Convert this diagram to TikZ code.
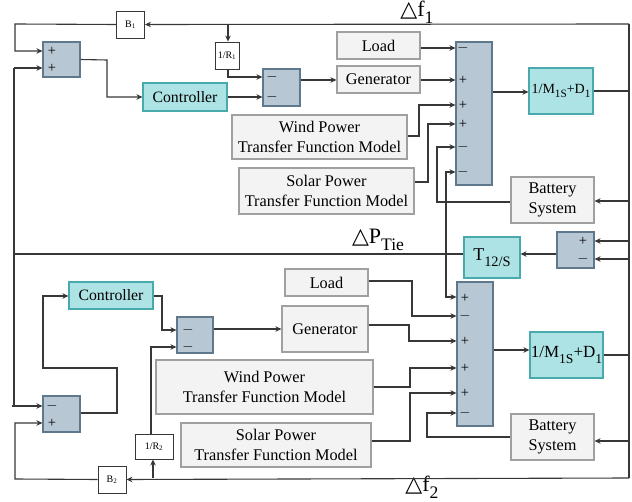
\documentclass[tikz,border=0pt]{standalone}
\usepackage{fontspec}
\setmainfont{Liberation Serif}
\newfontfamily\symfont{DejaVu Sans}
\usetikzlibrary{arrows.meta}
\definecolor{linec}{RGB}{55,55,55}
\definecolor{sumfill}{RGB}{184,199,212}
\definecolor{sumdraw}{RGB}{95,120,140}
\definecolor{tealfill}{RGB}{174,227,229}
\definecolor{tealdraw}{RGB}{72,170,172}
\definecolor{grayfill}{RGB}{243,243,243}
\definecolor{graydraw}{RGB}{160,160,160}
\newcommand\dn[1]{\raisebox{-0.3em}{\scalebox{0.8}{#1}}}
\newcommand\tri{{\symfont △}}
\begin{document}
\begin{tikzpicture}[x=1pt, y=-1pt, line width=1.1pt,
  lin/.style = {draw=linec},
  arr/.style = {draw=linec, -{Stealth[length=6pt,width=5.5pt]}},
  sumblk/.style = {draw=sumdraw, fill=sumfill, inner sep=0pt},
  ctl/.style = {draw=tealdraw, fill=tealfill, inner sep=0pt, align=center, font=\fontsize{15.8}{17}\selectfont},
  blk/.style = {draw=graydraw, fill=grayfill, inner sep=0pt, align=center, font=\fontsize{16.3}{20}\selectfont},
  gain/.style = {draw=linec, fill=white, inner sep=0pt, line width=0.9pt, font=\fontsize{10}{12}\selectfont},
  sgn/.style = {inner sep=0pt, font=\fontsize{14.5}{15}\selectfont},
  lbl/.style = {inner sep=0pt, font=\fontsize{22}{22}\selectfont}]
    \useasboundingbox (0,0) rectangle (632,502);

    % area 1
    \node[gain, minimum width=28pt, minimum height=27pt] (b1) at (130.5,24.5) {B\textsubscript{1}};
    \node[sumblk, minimum width=37pt, minimum height=35pt] (s1) at (61.5,59.5) {};
    \node[ctl, minimum width=84pt, minimum height=28pt] (c1) at (185,97) {Controller};
    \node[gain, minimum width=24pt, minimum height=27pt] (r1) at (227,55.5) {1/R\textsubscript{1}};
    \node[sumblk, minimum width=37pt, minimum height=37pt] (s2) at (281.5,87.5) {};
    \node[blk, minimum width=83pt, minimum height=27pt] (ld1) at (378.5,45.5) {Load};
    \node[blk, minimum width=83pt, minimum height=27pt] (g1) at (378.5,79.5) {Generator};
    \node[blk, minimum width=175pt, minimum height=44pt] (w1) at (319.5,137) {Wind Power\\Transfer Function Model};
    \node[blk, minimum width=175pt, minimum height=46pt] (p1) at (326.5,191) {Solar Power\\Transfer Function Model};
    \node[sumblk, minimum width=36pt, minimum height=143pt] (s3) at (474,113.5) {};
    \node[ctl, minimum width=64pt, minimum height=46pt, font=\fontsize{14}{16}\selectfont] (m1) at (561,91) {1/M\dn{1S}+D\dn{1}};
    \node[blk, minimum width=83pt, minimum height=46pt] (bt1) at (552.5,200) {Battery\\System};

    % tie line
    \node[ctl, minimum width=56pt, minimum height=41pt, font=\fontsize{18}{20}\selectfont] (t12) at (492,257.5) {T\dn{12/S}};
    \node[sumblk, minimum width=37pt, minimum height=36pt] (s4) at (575.5,250) {};

    % area 2
    \node[blk, minimum width=83pt, minimum height=27pt] (ld2) at (326.5,282.5) {Load};
    \node[blk, minimum width=86pt, minimum height=46pt] (g2) at (325,329) {Generator};
    \node[blk, minimum width=217pt, minimum height=54pt] (w2) at (264.5,387) {Wind Power\\Transfer Function Model};
    \node[blk, minimum width=190pt, minimum height=44pt] (p2) at (276,445) {Solar Power\\Transfer Function Model};
    \node[sumblk, minimum width=36pt, minimum height=144pt] (s5) at (475,354) {};
    \node[ctl, minimum width=73pt, minimum height=46pt, font=\fontsize{17}{19}\selectfont] (m2) at (566.5,355) {1/M\dn{1S}+D\dn{1}};
    \node[blk, minimum width=83pt, minimum height=46pt] (bt2) at (552.5,437) {Battery\\System};
    \node[ctl, minimum width=84pt, minimum height=27pt] (c2) at (111,295.5) {Controller};
    \node[sumblk, minimum width=36pt, minimum height=36pt] (s6) at (195,335) {};
    \node[gain, minimum width=38pt, minimum height=25pt] (r2) at (154,446.5) {1/R\textsubscript{2}};
    \node[gain, minimum width=28pt, minimum height=27pt] (b2) at (112,479.5) {B\textsubscript{2}};
    \node[sumblk, minimum width=37pt, minimum height=36pt] (s7) at (61.5,414) {};

    % signs
    \foreach \y/\s in {51/+, 68/+} \node[sgn] (sa\y) at (52,\y) {\s};
    \foreach \y/\s in {77/$-$, 97/$-$} \node[sgn] (sb\y) at (272,\y) {\s};
    \foreach \y/\s in {48/$-$, 80/+, 105/+, 124/+, 147/$-$, 172/$-$} \node[sgn] (sc\y) at (463,\y) {\s};
    \foreach \y/\s in {241/+, 259/$-$} \node[sgn] (sd\y) at (583,\y) {\s};
    \foreach \y/\s in {298/+, 316/$-$, 341/+, 368/+, 393/+, 413/$-$} \node[sgn] (se\y) at (465,\y) {\s};
    \foreach \y/\s in {330/$-$, 347/$-$} \node[sgn] (sf\y) at (188,\y) {\s};
    \foreach \y/\s in {406/$-$, 423/+} \node[sgn] (sg\y) at (52,\y) {\s};

    % labels
    \node[lbl] (df1) at (417,12) {\tri f\dn{1}};
    \node[lbl] (dptie) at (378,240) {\tri P\dn{Tie}};
    \node[lbl] (df2) at (422,487) {\tri f\dn{2}};

    % outer frequency loop
    \draw[lin] (629,24) -- (629,478);
    \draw[arr] (629,24) -- (b1.east);
    \draw[arr] (228,24) -- (r1.north -| 228,0);
    \draw[lin] (m1.east) -- (629,91);
    \draw[arr] (629,201) -- (bt1.east |- 0,201);
    \draw[arr] (629,241) -- (s4.east |- 0,241);
    \draw[arr] (629,259) -- (s4.east |- 0,259);
    \draw[lin] (m2.east) -- (629,355);
    \draw[arr] (629,441) -- (bt2.east |- 0,441);
    \draw[arr] (629,478) -- (b2.east);
    \draw[arr] (153,478) -- (r2.south -| 153,0);

    % tie line power
    \draw[arr] (s4.west |- 0,254) -- (t12.east |- 0,254);
    \draw[lin] (t12.west |- 0,254) -- (14,254);
    \draw[lin] (14,68) -- (14,406);
    \draw[arr] (14,68) -- (s1.west |- 0,68);
    \draw[arr] (12,406) -- (s7.west |- 0,406);
    \draw[arr] (446,254) -- (446,172) -- (s3.west |- 0,172);
    \draw[arr] (446,254) -- (446,297) -- (s5.west |- 0,297);

    % area 1 connections
    \draw[arr] (b1.west) -- (15,24) -- (15,51) -- (s1.west |- 0,51);
    \draw[arr] (s1.east) -- (107,60) -- (107,97) -- (c1.west);
    \draw[arr] (c1.east) -- (s2.west |- 0,97);
    \draw[arr] (r1.south -| 228,0) -- (228,77) -- (s2.west |- 0,77);
    \draw[arr] (s2.east |- 0,80) -- (g1.west |- 0,80);
    \draw[arr] (ld1.east |- 0,48) -- (s3.west |- 0,48);
    \draw[arr] (g1.east |- 0,80) -- (s3.west |- 0,80);
    \draw[arr] (w1.east |- 0,136) -- (419,136) -- (419,105) -- (s3.west |- 0,105);
    \draw[arr] (p1.east |- 0,182) -- (428,182) -- (428,124) -- (s3.west |- 0,124);
    \draw[arr] (bt1.west |- 0,202) -- (437,202) -- (437,147) -- (s3.west |- 0,147);
    \draw[arr] (s3.east |- 0,92) -- (m1.west |- 0,92);

    % area 2 connections
    \draw[arr] (ld2.east |- 0,281) -- (412,281) -- (412,316) -- (s5.west |- 0,316);
    \draw[arr] (g2.east |- 0,325) -- (409,325) -- (409,341) -- (s5.west |- 0,341);
    \draw[arr] (w2.east |- 0,387) -- (410,387) -- (410,368) -- (s5.west |- 0,368);
    \draw[arr] (p2.east |- 0,441) -- (410,441) -- (410,393) -- (s5.west |- 0,393);
    \draw[arr] (bt2.west |- 0,437) -- (427,437) -- (427,413) -- (s5.west |- 0,413);
    \draw[arr] (s5.east |- 0,350) -- (m2.west |- 0,350);
    \draw[arr] (b2.west) -- (15,479) -- (15,423) -- (s7.west |- 0,423);
    \draw[arr] (s7.east |- 0,413) -- (117,413) -- (117,368) -- (43,368) -- (43,296) -- (c2.west |- 0,296);
    \draw[arr] (c2.east |- 0,296) -- (162,296) -- (162,330) -- (s6.west |- 0,330);
    \draw[arr] (r2.north -| 151,0) -- (151,347) -- (s6.west |- 0,347);
    \draw[arr] (s6.east |- 0,329) -- (g2.west |- 0,329);
\end{tikzpicture}
\end{document}
